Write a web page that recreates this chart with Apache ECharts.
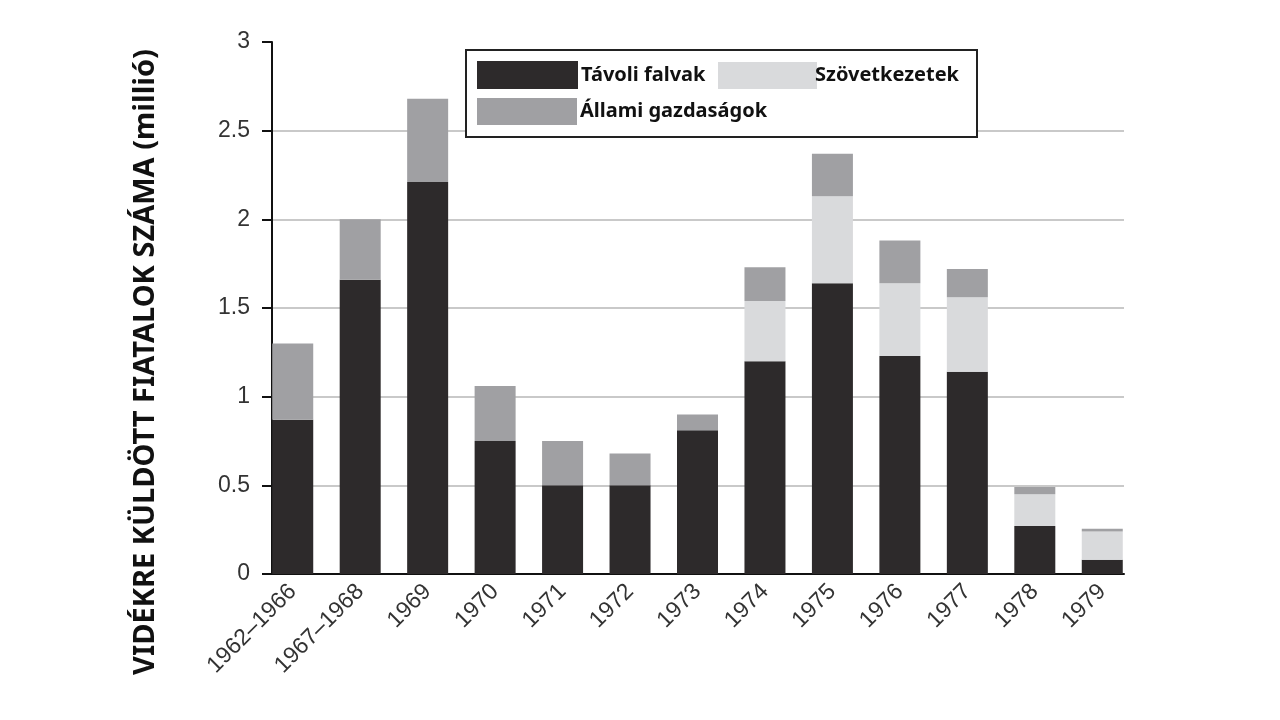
<!DOCTYPE html>
<html>
<head>
<meta charset="utf-8">
<script src="https://cdn.jsdelivr.net/npm/echarts@6/dist/echarts.min.js"></script>
<style>
  html, body { margin: 0; padding: 0; background: #fff; }
  #chart { width: 1280px; height: 720px; }
</style>
</head>
<body>
<div id="chart"></div>
<script>
(function () {
  var CATEGORIES = ['1962–1966', '1967–1968', '1969', '1970', '1971', '1972', '1973',
    '1974', '1975', '1976', '1977', '1978', '1979'];
  // millió fő, alulról felfelé halmozva
  var TAVOLI = [0.87, 1.66, 2.21, 0.75, 0.50, 0.50, 0.81, 1.20, 1.64, 1.23, 1.14, 0.27, 0.08];
  var SZOVET = [0, 0, 0, 0, 0, 0, 0, 0.34, 0.49, 0.41, 0.42, 0.18, 0.16];
  var ALLAMI = [0.43, 0.34, 0.47, 0.31, 0.25, 0.18, 0.09, 0.19, 0.24, 0.24, 0.16, 0.04, 0.015];
  var Y_TICKS = [0, 0.5, 1, 1.5, 2, 2.5, 3];

  var DARK = '#2d2a2b';
  var LIGHT = '#d9dadc';
  var MID = '#a0a0a3';
  var AXIS_FONT = '"Liberation Sans", Arial, sans-serif';
  var BOLD_FONT = '"Noto Sans", "DejaVu Sans", sans-serif';

  var chart = echarts.init(document.getElementById('chart'), null, { renderer: 'canvas' });

  function legend(name, left, top, w, h, shift) {
    return {
      data: [name],
      left: left,
      top: top,
      itemWidth: w,
      itemHeight: h,
      icon: 'rect',
      padding: 0,
      selectedMode: false,
      textStyle: {
        fontFamily: BOLD_FONT, fontWeight: 'bold', fontSize: 20, color: '#111',
        padding: [0, 0, 4, shift]
      }
    };
  }

  chart.setOption({
    animation: false,
    backgroundColor: '#fff',
    grid: [
      { left: 272, right: 156, top: 42, bottom: 146 },
      { left: 259, right: 144, top: 42, bottom: 146 }
    ],
    legend: [
      legend('Távoli falvak', 477, 61, 101, 28, -2),
      legend('Szövetkezetek', 718, 62, 99, 27, -7),
      legend('Állami gazdaságok', 477, 98, 100, 27, -2)
    ],
    xAxis: [
      {
        type: 'category', gridIndex: 0, data: CATEGORIES,
        axisLine: { lineStyle: { color: '#111', width: 2 } },
        axisTick: { show: false },
        axisLabel: { show: false }
      },
      {
        type: 'category', gridIndex: 1, data: CATEGORIES,
        axisLine: { show: false },
        axisTick: { show: false },
        axisLabel: {
          rotate: 45, margin: 14, fontSize: 23, color: '#333', fontFamily: AXIS_FONT
        }
      }
    ],
    yAxis: [
      {
        type: 'value', gridIndex: 0, min: 0, max: 3, interval: 0.5,
        axisLine: { show: true, lineStyle: { color: '#111', width: 2 } },
        axisTick: { show: true, length: 10, lineStyle: { color: '#111', width: 2 } },
        axisLabel: {
          margin: 22, fontSize: 23, color: '#333', fontFamily: AXIS_FONT,
          formatter: function (v) { return Y_TICKS.indexOf(v) >= 0 ? String(v) : ''; }
        },
        splitLine: { showMaxLine: false, lineStyle: { color: '#c9c9c9', width: 2 } }
      },
      {
        type: 'value', gridIndex: 1, min: 0, max: 3, interval: 0.5,
        show: false, splitLine: { show: false }
      }
    ],
    graphic: [
      {
        type: 'rect', z: 1,
        shape: { x: 466, y: 50, width: 511, height: 87 },
        style: { fill: '#fff', stroke: '#222', lineWidth: 2 }
      },
      {
        type: 'text', x: 146, y: 362, rotation: Math.PI / 2,
        style: {
          text: 'VIDÉKRE KÜLDÖTT FIATALOK SZÁMA (millió)',
          font: 'bold 29px ' + BOLD_FONT,
          fill: '#111', align: 'center', verticalAlign: 'middle'
        }
      }
    ],
    series: [
      { name: 'Távoli falvak', type: 'bar', stack: 'total', xAxisIndex: 1, yAxisIndex: 1,
        barWidth: 41, itemStyle: { color: DARK }, data: TAVOLI },
      { name: 'Szövetkezetek', type: 'bar', stack: 'total', xAxisIndex: 1, yAxisIndex: 1,
        barWidth: 41, itemStyle: { color: LIGHT }, data: SZOVET },
      { name: 'Állami gazdaságok', type: 'bar', stack: 'total', xAxisIndex: 1, yAxisIndex: 1,
        barWidth: 41, itemStyle: { color: MID }, data: ALLAMI }
    ]
  });
})();
</script>
</body>
</html>
